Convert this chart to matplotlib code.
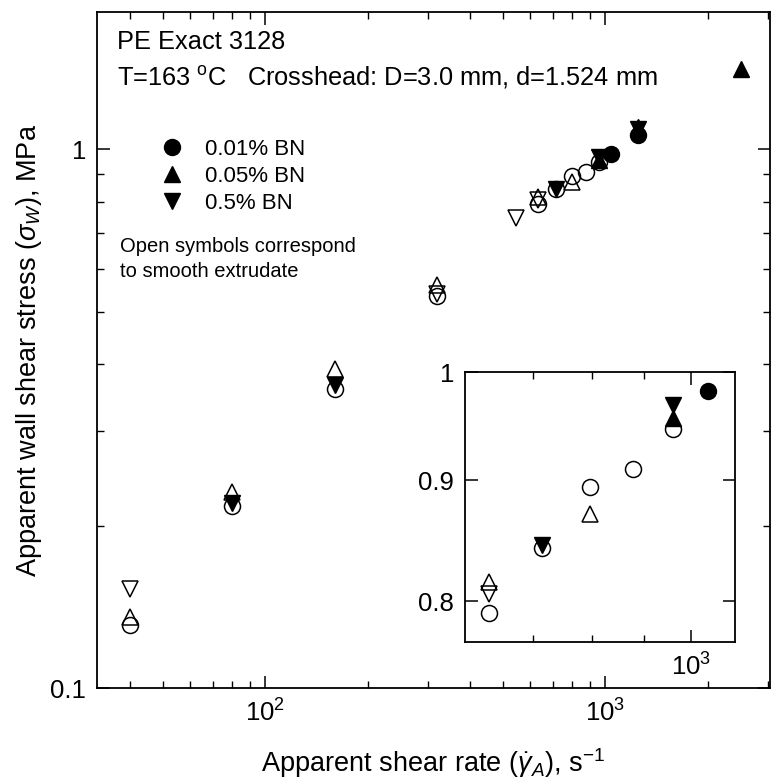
import numpy as np
import matplotlib.pyplot as plt
from matplotlib.ticker import LogLocator, NullFormatter, FixedLocator, FixedFormatter
from matplotlib.lines import Line2D

plt.rcParams['font.family'] = ['Liberation Sans', 'DejaVu Sans']
plt.rcParams['mathtext.fontset'] = 'custom'
plt.rcParams['mathtext.rm'] = 'Liberation Sans'
plt.rcParams['mathtext.it'] = 'Liberation Sans:italic'
plt.rcParams['axes.linewidth'] = 1.3

# 0.01% BN (circles)
circ_open_x = [40, 80, 160, 320, 634, 714, 796, 878, 960]
circ_open_y = [0.1308, 0.218, 0.359, 0.534, 0.791, 0.843, 0.894, 0.910, 0.946]
circ_fill_x = [1039, 1250]
circ_fill_y = [0.982, 1.065]

# 0.05% BN (up triangles)
up_open_x = [40, 80, 160, 320, 634, 796]
up_open_y = [0.1353, 0.231, 0.391, 0.560, 0.815, 0.871]
up_fill_x = [960, 1250, 2500]
up_fill_y = [0.956, 1.10, 1.41]

# 0.5% BN (down triangles)
dn_open_x = [40, 320, 545, 634]
dn_open_y = [0.1526, 0.540, 0.746, 0.806]
dn_fill_x = [80, 160, 714, 960, 1250]
dn_fill_y = [0.221, 0.365, 0.845, 0.968, 1.09]

labels = ['0.01% BN', '0.05% BN', '0.5% BN']

fig = plt.figure(figsize=(7.8, 7.8), dpi=100)
ax = fig.add_axes([97/780, 1-688/780, 673/780, 676/780])
ins = fig.add_axes([465/780, 1-642/780, 270/780, 270/780])

ms = 11.5
mew = 1.1

def draw(a):
    a.plot(circ_open_x, circ_open_y, 'o', ms=ms, mfc='none', mec='k', mew=mew)
    a.plot(up_open_x, up_open_y, '^', ms=ms, mfc='none', mec='k', mew=mew)
    a.plot(dn_open_x, dn_open_y, 'v', ms=ms, mfc='none', mec='k', mew=mew)
    a.plot(circ_fill_x, circ_fill_y, 'o', ms=ms, color='k')
    a.plot(up_fill_x, up_fill_y, '^', ms=ms, color='k')
    a.plot(dn_fill_x, dn_fill_y, 'v', ms=ms, color='k')

draw(ax)
draw(ins)

# main axes
ax.set_xscale('log')
ax.set_yscale('log')
ax.set_xlim(32, 3050)
ax.set_ylim(0.1, 1.8)
ax.yaxis.set_major_locator(FixedLocator([0.1, 1]))
ax.yaxis.set_major_formatter(FixedFormatter(['0.1', '1']))
ax.yaxis.set_minor_locator(LogLocator(base=10, subs=np.arange(2, 10)))
ax.yaxis.set_minor_formatter(NullFormatter())
ax.tick_params(which='both', direction='in', top=True, right=True, labelsize=18.5)
ax.tick_params(which='major', length=9, width=1.1, pad=8)
ax.tick_params(which='minor', length=5, width=1.0)
ax.set_xlabel(r'Apparent shear rate ($\dot{\gamma}_A$), s$^{-1}$', fontsize=19.5, labelpad=14)
ax.set_ylabel(r'Apparent wall shear stress ($\sigma_W$), MPa', fontsize=19.5, labelpad=4)

ax.text(0.030, 0.9556, 'PE Exact 3128', transform=ax.transAxes, fontsize=18.3, va='center')
ax.text(0.030, 0.9024, r'T=163 $^\mathregular{o}$C   Crosshead: D=3.0 mm, d=1.524 mm',
        transform=ax.transAxes, fontsize=18.3, va='center')
ax.text(0.034, 0.653, 'Open symbols correspond', transform=ax.transAxes, fontsize=14.5, va='center')
ax.text(0.034, 0.616, 'to smooth extrudate', transform=ax.transAxes, fontsize=14.5, va='center')

handles = [Line2D([], [], ls='none', marker=m, color='k', ms=ms) for m in ['o', '^', 'v']]
ax.legend(handles, labels, loc='upper left', bbox_to_anchor=(0.065, 0.842), frameon=False,
          fontsize=16, handlelength=1.0, handletextpad=1.0, labelspacing=0.28)

# inset
ins.set_xscale('log')
ins.set_yscale('log')
ins.set_xlim(600, 1105)
ins.set_ylim(0.769, 1.0)
ins.xaxis.set_major_locator(FixedLocator([1000]))
ins.xaxis.set_major_formatter(FixedFormatter([r'10$^3$']))
ins.xaxis.set_minor_locator(FixedLocator([700, 800, 900]))
ins.xaxis.set_minor_formatter(NullFormatter())
ins.yaxis.set_major_locator(FixedLocator([0.8, 0.9, 1.0]))
ins.yaxis.set_major_formatter(FixedFormatter(['0.8', '0.9', '1']))
ins.yaxis.set_minor_locator(FixedLocator([]))
ins.tick_params(which='both', direction='in', top=True, right=True, labelsize=18.5)
ins.tick_params(which='major', length=9, width=1.1, pad=8)
ins.tick_params(which='minor', length=5, width=1.0)

fig.savefig('out.png', dpi=100)
